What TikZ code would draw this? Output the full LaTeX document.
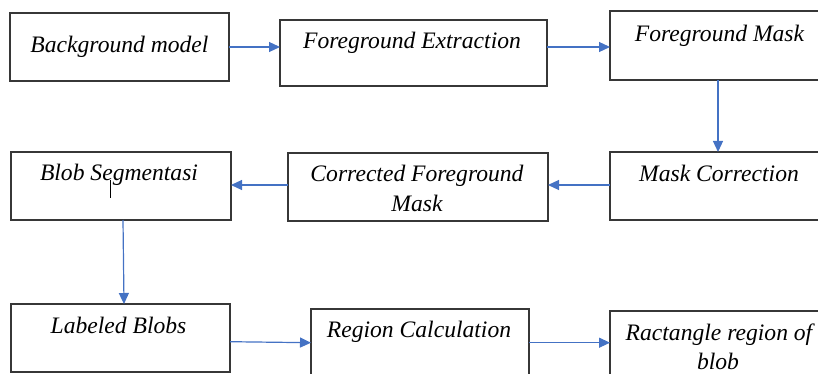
\documentclass[tikz,border=0pt]{standalone}
\usepackage{fontspec}
\setmainfont{Liberation Serif}
\usetikzlibrary{arrows.meta}
\definecolor{flowblue}{RGB}{68,114,196}
\definecolor{boxgray}{RGB}{55,55,55}
\tikzset{
  box/.style={draw=boxgray, line width=1.3pt, inner sep=0pt, outer sep=0pt, fill=white},
  txt/.style={anchor=base, inner sep=0pt, font=\fontsize{23.6}{30}\selectfont\itshape},
  flow/.style={draw=flowblue, line width=1.2pt, -{Triangle[length=11pt,width=10pt]}}
}
\begin{document}
\begin{tikzpicture}[x=1pt, y=-1pt]
\useasboundingbox (0,0) rectangle (818,374);

% boxes
\node[box, minimum width=219pt, minimum height=68pt] (bg)  at (119.5,47)  {};
\node[box, minimum width=267pt, minimum height=66pt] (fe)  at (413.5,53)  {};
\node[box, minimum width=218pt, minimum height=69pt] (fm)  at (719,45.5)  {};
\node[box, minimum width=218pt, minimum height=68pt] (mc)  at (719,186)   {};
\node[box, minimum width=260pt, minimum height=68pt] (cfm) at (418,187)   {};
\node[box, minimum width=220pt, minimum height=68pt] (bs)  at (121,186)   {};
\node[box, minimum width=219pt, minimum height=68pt] (lb)  at (120.5,338) {};
\node[box, minimum width=218pt, minimum height=68pt] (rc)  at (420,343)   {};
\node[box, minimum width=218pt, minimum height=68pt] (rr)  at (719,345)   {};

% labels
\node[txt] (tbg)  at (119.5,53)  {Background model};
\node[txt] (tfe)  at (412,49)    {Foreground Extraction};
\node[txt] (tfm)  at (719.5,42)  {Foreground Mask};
\node[txt] (tmc)  at (719,181)   {Mask Correction};
\node[txt] (tcfa) at (417,182)   {Corrected Foreground};
\node[txt] (tcfb) at (417,211)   {Mask};
\node[txt] (tbs)  at (119,180)   {Blob Segmentasi};
\node[txt] (tlb)  at (118.5,333.5) {Labeled Blobs};
\node[txt] (trc)  at (419,337)   {Region Calculation};
\node[txt] (trra) at (719,340)   {Ractangle region of};
\node[txt] (trrb) at (718,369)   {blob};

% stray cursor mark inside the segmentation box
\draw[black, line width=0.8pt] (110,180) -- (110,198);

% connector levels
\coordinate (r1)  at (0,47);
\coordinate (r2)  at (0,185);
\coordinate (r3a) at (0,341.7);
\coordinate (r3b) at (0,342.7);

% connectors
\draw[flow] (bg.east |- r1) -- (fe.west |- r1);
\draw[flow] (fe.east |- r1) -- (fm.west |- r1);
\draw[flow] ([xshift=-1pt]fm.south) -- ([xshift=-1pt]mc.north);
\draw[flow] (mc.west |- r2) -- (cfm.east |- r2);
\draw[flow] (cfm.west |- r2) -- (bs.east |- r2);
\draw[flow] ([xshift=2pt]bs.south) -- ([xshift=3.5pt]lb.north);
\draw[flow] (lb.east |- r3a) -- (rc.west |- r3b);
\draw[flow] (rc.east |- r3b) -- (rr.west |- r3b);
\end{tikzpicture}
\end{document}
